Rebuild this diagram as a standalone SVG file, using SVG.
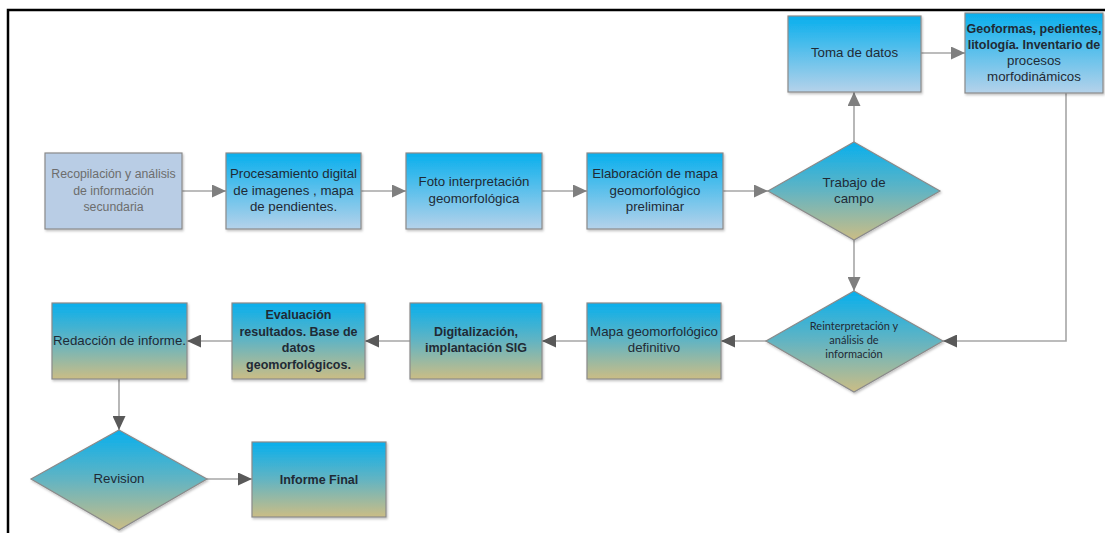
<svg xmlns="http://www.w3.org/2000/svg" width="1105" height="533" viewBox="0 0 1105 533">
<style>
.t{font-family:"Liberation Sans",Arial,sans-serif;font-size:13.3px;fill:#1f2a35;text-anchor:middle}
.b{font-weight:bold;font-size:12.5px}
.g{fill:#6d6d6d;font-size:12.3px}
.s{font-family:Lato,"Liberation Sans",sans-serif;font-size:11px;fill:#1f2a35;text-anchor:middle}
.box{stroke:#8a8a8a;stroke-width:1.2;filter:url(#sh)}
.c{fill:none;stroke:#a6a6a6;stroke-width:1.6}
</style>
<defs>
<linearGradient id="gb" x1="0" y1="0" x2="0" y2="1"><stop offset="0" stop-color="#08afed"/><stop offset="1" stop-color="#b5d2ea"/></linearGradient>
<linearGradient id="gt" x1="0" y1="0" x2="0" y2="1"><stop offset="0" stop-color="#08afed"/><stop offset="0.5" stop-color="#63b4c2"/><stop offset="1" stop-color="#cbbd85"/></linearGradient>
<filter id="sh" x="-10%" y="-10%" width="120%" height="130%"><feDropShadow dx="1" dy="1.5" stdDeviation="1" flood-color="#000" flood-opacity="0.25"/></filter>
<marker id="al" markerUnits="userSpaceOnUse" markerWidth="15" markerHeight="13" refX="14" refY="6.5" orient="auto"><path d="M0,0 L14,6.5 L0,13 z" fill="#7f7f7f"/></marker>
<marker id="ad" markerUnits="userSpaceOnUse" markerWidth="15" markerHeight="13" refX="14" refY="6.5" orient="auto"><path d="M0,0 L14,6.5 L0,13 z" fill="#595959"/></marker>
</defs>
<rect width="1105" height="533" fill="#fff"/>
<path d="M8,533 V10 H1105" fill="none" stroke="#000" stroke-width="2.5"/>
<g id="connectors">
<path class="c" d="M182,191 H226" marker-end="url(#al)"/>
<path class="c" d="M361,191 H406" marker-end="url(#al)"/>
<path class="c" d="M542,191 H587" marker-end="url(#al)"/>
<path class="c" d="M723,191 H768" marker-end="url(#al)"/>
<path class="c" d="M854,142 V92" marker-end="url(#al)"/>
<path class="c" d="M921,53 H965" marker-end="url(#al)"/>
<path class="c" d="M854,240 V291" marker-end="url(#al)"/>
<path class="c" d="M1066,93 V341 H943" marker-end="url(#ad)"/>
<path class="c" d="M766,341 H721" marker-end="url(#ad)"/>
<path class="c" d="M587,341 H542" marker-end="url(#ad)"/>
<path class="c" d="M410,341 H365" marker-end="url(#ad)"/>
<path class="c" d="M232,341 H187" marker-end="url(#ad)"/>
<path class="c" d="M119,379 V430" marker-end="url(#ad)"/>
<path class="c" d="M207,479 H252" marker-end="url(#ad)"/>
</g>
<g id="n1"><rect class="box" x="45" y="153" width="137" height="76" fill="#b9cde5"/>
<text class="t g" x="113.5" y="178">Recopilación y análisis</text><text class="t g" x="113.5" y="195">de información</text><text class="t g" x="113.5" y="211">secundaria</text></g>
<g id="n2"><rect class="box" x="226" y="153" width="135" height="76" fill="url(#gb)"/>
<text class="t" x="293.5" y="178">Procesamiento digital</text><text class="t" x="293.5" y="195">de imagenes , mapa</text><text class="t" x="293.5" y="211">de pendientes.</text></g>
<g id="n3"><rect class="box" x="406" y="153" width="136" height="76" fill="url(#gb)"/>
<text class="t" x="474" y="186">Foto interpretación</text><text class="t" x="474" y="203">geomorfológica</text></g>
<g id="n4"><rect class="box" x="587" y="153" width="136" height="76" fill="url(#gb)"/>
<text class="t" x="655" y="178">Elaboración de mapa</text><text class="t" x="655" y="195">geomorfológico</text><text class="t" x="655" y="211">preliminar</text></g>
<g id="n5"><path class="box" d="M854,142 L940,191 L854,240 L768,191 z" fill="url(#gt)"/>
<text class="t" x="854" y="187">Trabajo de</text><text class="t" x="854" y="203">campo</text></g>
<g id="n6"><rect class="box" x="788" y="16" width="133" height="76" fill="url(#gb)"/>
<text class="t" x="854.5" y="57">Toma de datos</text></g>
<g id="n7"><rect class="box" x="965" y="13" width="138" height="80" fill="url(#gb)"/>
<text class="t b" x="1034" y="33">Geoformas, pedientes,</text><text class="t b" x="1034" y="49">litología. Inventario de</text><text class="t" x="1034" y="65">procesos</text><text class="t" x="1034" y="81">morfodinámicos</text></g>
<g id="n8"><path class="box" d="M854,291 L943,341 L854,392 L766,341 z" fill="url(#gt)"/>
<text class="s" x="854" y="330">Reinterpretación y</text><text class="s" x="854" y="344">análisis de</text><text class="s" x="854" y="358">información</text></g>
<g id="n9"><rect class="box" x="587" y="303" width="134" height="76" fill="url(#gt)"/>
<text class="t" x="654" y="336">Mapa geomorfológico</text><text class="t" x="654" y="352">definitivo</text></g>
<g id="n10"><rect class="box" x="410" y="303" width="132" height="76" fill="url(#gt)"/>
<text class="t b" x="476" y="336">Digitalización,</text><text class="t b" x="476" y="352">implantación SIG</text></g>
<g id="n11"><rect class="box" x="232" y="303" width="133" height="76" fill="url(#gt)"/>
<text class="t b" x="298.5" y="319">Evaluación</text><text class="t b" x="298.5" y="336">resultados. Base de</text><text class="t b" x="298.5" y="352">datos</text><text class="t b" x="298.5" y="369">geomorfológicos.</text></g>
<g id="n12"><rect class="box" x="52" y="303" width="135" height="76" fill="url(#gt)"/>
<text class="t" x="119.5" y="345">Redacción de informe.</text></g>
<g id="n13"><path class="box" d="M119,430 L207,479 L119,530 L31,479 z" fill="url(#gt)"/>
<text class="t" x="119" y="483">Revision</text></g>
<g id="n14"><rect class="box" x="252" y="442" width="134" height="75" fill="url(#gt)"/>
<text class="t b" x="319" y="484">Informe Final</text></g>
</svg>
